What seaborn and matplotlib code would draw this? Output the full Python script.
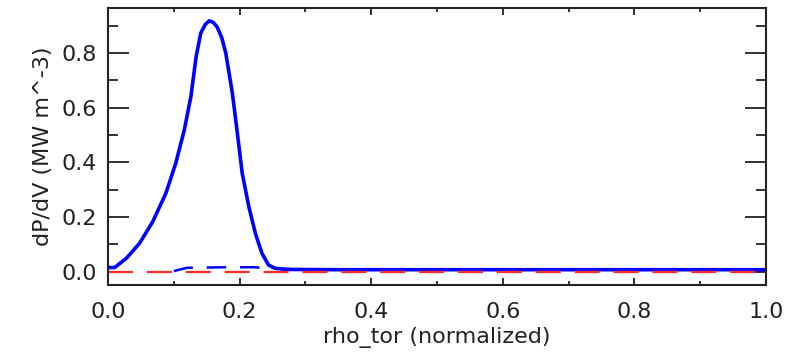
import numpy as np
import pandas as pd
import matplotlib
matplotlib.use("Agg")
import matplotlib.pyplot as plt
import seaborn as sns

# data
rho_total = [0.0, 0.01, 0.028, 0.048, 0.068, 0.088, 0.103, 0.116, 0.126, 0.134,
             0.141, 0.148, 0.154, 0.160, 0.166, 0.173, 0.179, 0.189, 0.196, 0.204,
             0.214, 0.224, 0.234, 0.244, 0.254, 0.27, 0.35, 0.5, 0.7, 0.9, 1.0]
dpdv_total = [0.015, 0.015, 0.049, 0.104, 0.183, 0.287, 0.397, 0.519, 0.641, 0.788,
              0.873, 0.905, 0.918, 0.912, 0.895, 0.855, 0.80, 0.653, 0.519, 0.36,
              0.238, 0.14, 0.067, 0.024, 0.012, 0.008, 0.007, 0.007, 0.007, 0.007, 0.007]

rho_second = [0.10, 0.12, 0.18, 0.22, 0.25, 0.30, 0.5, 1.0]
dpdv_second = [0.002, 0.014, 0.016, 0.016, 0.012, 0.007, 0.007, 0.007]

rho_third = [0.0, 0.25, 0.5, 0.75, 1.0]
dpdv_third = [0.0, 0.0, 0.0, 0.0, 0.0]

df1 = pd.DataFrame({'rho': rho_total, 'dpdv': dpdv_total})
df2 = pd.DataFrame({'rho': rho_second, 'dpdv': dpdv_second})
df3 = pd.DataFrame({'rho': rho_third, 'dpdv': dpdv_third})

sns.set_style("white")
plt.rcParams['font.family'] = ['DejaVu Sans']
plt.rcParams['lines.scale_dashes'] = False

fig = plt.figure(figsize=(7.92, 3.61), dpi=100)
ax = fig.add_axes([0.1364, 0.2105, 0.8306, 0.7675])

sns.lineplot(data=df2, x='rho', y='dpdv', ax=ax, color='#0000ff',
             linewidth=1.8, linestyle=(0, (14, 10)), estimator=None, sort=False)
sns.lineplot(data=df1, x='rho', y='dpdv', ax=ax, color='#0000ff',
             linewidth=2.6, estimator=None, sort=False)
sns.lineplot(data=df3, x='rho', y='dpdv', ax=ax, color='#ff2a2a',
             linewidth=1.6, linestyle=(0, (18, 10)), estimator=None, sort=False)

ax.set_xlim(0, 1.0)
ax.set_ylim(-0.049, 0.965)
ax.set_xticks(np.arange(0, 1.01, 0.2))
ax.set_xticks(np.arange(0.1, 1.0, 0.2), minor=True)
ax.set_yticks(np.arange(0, 0.81, 0.2))
ax.set_yticks(np.arange(0.1, 0.95, 0.2), minor=True)
ax.xaxis.set_major_formatter(matplotlib.ticker.FormatStrFormatter('%.1f'))
ax.yaxis.set_major_formatter(matplotlib.ticker.FormatStrFormatter('%.1f'))

ax.tick_params(axis='both', which='both', direction='in', top=True, right=True,
               left=True, bottom=True, colors='#222222', labelsize=16, width=1.3)
ax.tick_params(axis='y', which='major', length=15, pad=8)
ax.tick_params(axis='y', which='minor', length=7)
ax.tick_params(axis='x', which='major', length=5, pad=12)
ax.tick_params(axis='x', which='minor', length=3)

for s in ax.spines.values():
    s.set_visible(True)
    s.set_color('#222222')
    s.set_linewidth(1.5)

ax.set_xlabel('rho_tor (normalized)', fontsize=16, color='#222222', labelpad=4)
ax.set_ylabel('dP/dV (MW m^-3)', fontsize=16, color='#222222', labelpad=6)

fig.savefig('out.png', dpi=100)
